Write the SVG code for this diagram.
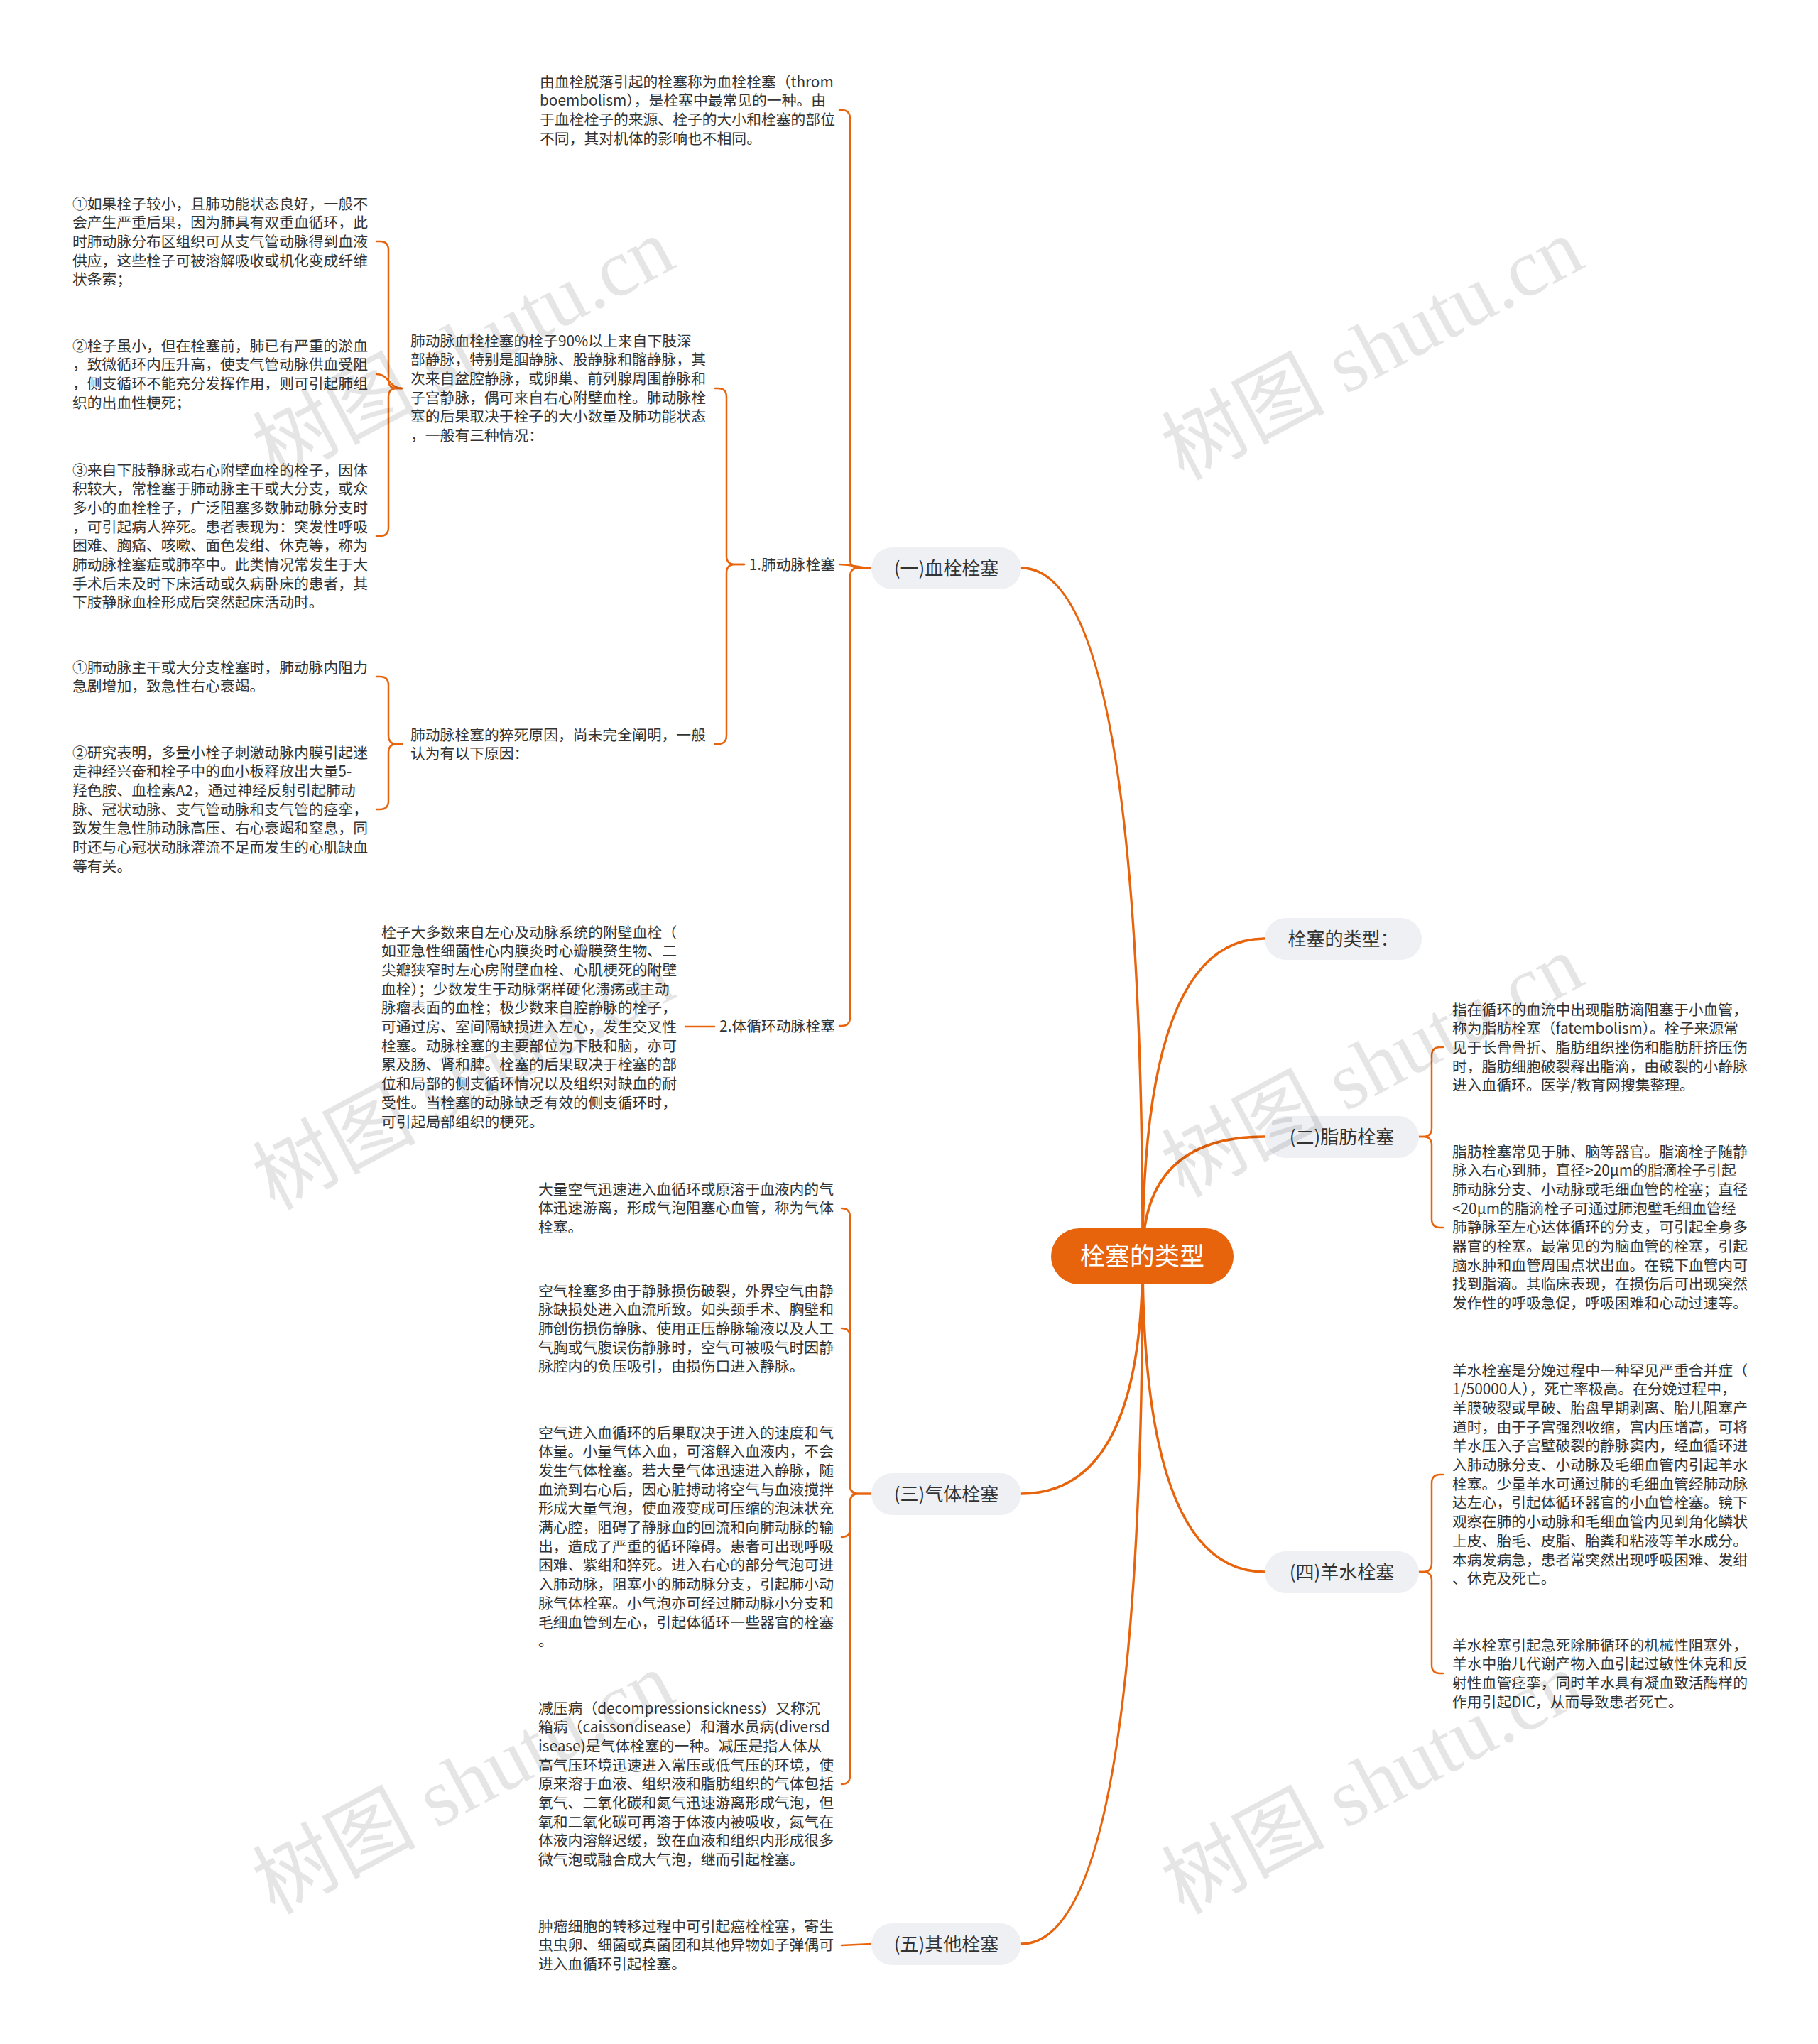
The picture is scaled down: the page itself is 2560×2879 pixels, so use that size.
<svg xmlns="http://www.w3.org/2000/svg" width="2560" height="2879" viewBox="0 0 2560 2879">
<style>
.t{font-family:"Noto Sans CJK SC","Noto Sans",sans-serif;font-size:20.8px;fill:#333333}
.l1{font-family:"Noto Sans CJK SC","Noto Sans",sans-serif;font-size:26px;fill:#333333;text-anchor:middle}
.l1r{fill:#eef0f4}
.c0{fill:none;stroke:#e8640c;stroke-width:3.5;stroke-linecap:round}
.c1{fill:none;stroke:#e8640c;stroke-width:2.5;stroke-linecap:round}
.wm{font-family:"Liberation Serif","Noto Sans CJK SC",serif;font-size:115px;fill:#000000;fill-opacity:0.1}
</style>
<rect x="0" y="0" width="2560" height="2879" fill="#ffffff"/>
<g id="connectors">
<path class="c0" d="M1609,1769 Q1609,800 1438,800"/>
<path class="c0" d="M1609,1769 Q1609,1322 1781,1322"/>
<path class="c0" d="M1609,1769 Q1609,1601 1781,1601"/>
<path class="c0" d="M1609,1769 Q1609,2104 1438,2104"/>
<path class="c0" d="M1609,1769 Q1609,2214 1781,2214"/>
<path class="c0" d="M1609,1769 Q1609,2738 1438,2738"/>
<path class="c1" d="M1227,800 L1209,800 Q1197,800 1197,788 L1197,167 Q1197,155 1185,155 L1182,155"/>
<path class="c1" d="M1227,800 C1205,800 1205,795 1182,795"/>
<path class="c1" d="M1227,800 L1209,800 Q1197,800 1197,812 L1197,1433 Q1197,1445 1185,1445 L1182,1445"/>
<path class="c1" d="M1048,795 L1035,795 Q1023,795 1023,783 L1023,559 Q1023,547 1011,547 L1007,547"/>
<path class="c1" d="M1048,795 L1035,795 Q1023,795 1023,807 L1023,1036 Q1023,1048 1011,1048 L1007,1048"/>
<path class="c1" d="M566,547 L559,547 Q547,547 547,535 L547,352 Q547,340 535,340 L530,340"/>
<path class="c1" d="M566,547 C548,547 548,527 530,527"/>
<path class="c1" d="M566,547 L559,547 Q547,547 547,559 L547,743 Q547,755 535,755 L530,755"/>
<path class="c1" d="M566,1048 L559,1048 Q547,1048 547,1036 L547,965 Q547,953 535,953 L530,953"/>
<path class="c1" d="M566,1048 L559,1048 Q547,1048 547,1060 L547,1128 Q547,1140 535,1140 L530,1140"/>
<path class="c1" d="M1006,1446 L965,1446"/>
<path class="c1" d="M1227,2104 L1209,2104 Q1197,2104 1197,2092 L1197,1714 Q1197,1702 1185,1702"/>
<path class="c1" d="M1227,2104 L1209,2104 Q1197,2104 1197,2092 L1197,1883 Q1197,1871 1185,1871"/>
<path class="c1" d="M1227,2104 L1209,2104 Q1197,2104 1197,2116 L1197,2153 Q1197,2165 1185,2165"/>
<path class="c1" d="M1227,2104 L1209,2104 Q1197,2104 1197,2116 L1197,2501 Q1197,2513 1185,2513"/>
<path class="c1" d="M1227,2738 L1185,2740"/>
<path class="c1" d="M1998,1601 L2004,1601 Q2016,1601 2016,1589 L2016,1487 Q2016,1475 2028,1475 L2032,1475"/>
<path class="c1" d="M1998,1601 L2004,1601 Q2016,1601 2016,1613 L2016,1717 Q2016,1729 2028,1729 L2032,1729"/>
<path class="c1" d="M1998,2214 L2004,2214 Q2016,2214 2016,2202 L2016,2089 Q2016,2077 2028,2077 L2032,2077"/>
<path class="c1" d="M1998,2214 L2004,2214 Q2016,2214 2016,2226 L2016,2345 Q2016,2357 2028,2357 L2032,2357"/>
</g>
<g id="root">
<rect x="1480" y="1730" width="257" height="79" rx="39.5" fill="#e8640c"/>
<text x="1608.5" y="1782" text-anchor="middle" font-family="Noto Sans CJK SC, sans-serif" font-size="35" fill="#ffffff">栓塞的类型</text>
</g>
<g id="n1">
<rect class="l1r" x="1227" y="771" width="211" height="59" rx="29.5"/>
<text class="l1" x="1332.5" y="810">(一)血栓栓塞</text>
</g>
<g id="n2">
<rect class="l1r" x="1781" y="1293" width="221" height="59" rx="29.5"/>
<text class="l1" x="1891.5" y="1332">栓塞的类型：</text>
</g>
<g id="n3">
<rect class="l1r" x="1781" y="1572" width="217" height="59" rx="29.5"/>
<text class="l1" x="1889.5" y="1611">(二)脂肪栓塞</text>
</g>
<g id="n4">
<rect class="l1r" x="1227" y="2075" width="211" height="59" rx="29.5"/>
<text class="l1" x="1332.5" y="2114">(三)气体栓塞</text>
</g>
<g id="n5">
<rect class="l1r" x="1781" y="2185" width="217" height="59" rx="29.5"/>
<text class="l1" x="1889.5" y="2224">(四)羊水栓塞</text>
</g>
<g id="n6">
<rect class="l1r" x="1227" y="2709" width="211" height="59" rx="29.5"/>
<text class="l1" x="1332.5" y="2748">(五)其他栓塞</text>
</g>
<g id="n1a">
<text class="t" x="1176" y="802.5" text-anchor="end">1.肺动脉栓塞</text>
</g>
<g id="n1b">
<text class="t" x="1176" y="1452.5" text-anchor="end">2.体循环动脉栓塞</text>
</g>
<g id="tA">
<text class="t"><tspan x="760" y="122.5">由血栓脱落引起的栓塞称为血栓栓塞（throm</tspan><tspan x="760" dy="26.7">boembolism），是栓塞中最常见的一种。由</tspan><tspan x="760" dy="26.7">于血栓栓子的来源、栓子的大小和栓塞的部位</tspan><tspan x="760" dy="26.7">不同，其对机体的影响也不相同。</tspan></text>
</g>
<g id="tB1">
<text class="t"><tspan x="578" y="487.5">肺动脉血栓栓塞的栓子90%以上来自下肢深</tspan><tspan x="578" dy="26.7">部静脉，特别是腘静脉、股静脉和髂静脉，其</tspan><tspan x="578" dy="26.7">次来自盆腔静脉，或卵巢、前列腺周围静脉和</tspan><tspan x="578" dy="26.7">子宫静脉，偶可来自右心附壁血栓。肺动脉栓</tspan><tspan x="578" dy="26.7">塞的后果取决于栓子的大小数量及肺功能状态</tspan><tspan x="578" dy="26.7">，一般有三种情况：</tspan></text>
</g>
<g id="tB2">
<text class="t"><tspan x="578" y="1042.5">肺动脉栓塞的猝死原因，尚未完全阐明，一般</tspan><tspan x="578" dy="26.7">认为有以下原因：</tspan></text>
</g>
<g id="tC1">
<text class="t"><tspan x="102" y="294.5">①如果栓子较小，且肺功能状态良好，一般不</tspan><tspan x="102" dy="26.7">会产生严重后果，因为肺具有双重血循环，此</tspan><tspan x="102" dy="26.7">时肺动脉分布区组织可从支气管动脉得到血液</tspan><tspan x="102" dy="26.7">供应，这些栓子可被溶解吸收或机化变成纤维</tspan><tspan x="102" dy="26.7">状条索；</tspan></text>
</g>
<g id="tC2">
<text class="t"><tspan x="102" y="494.5">②栓子虽小，但在栓塞前，肺已有严重的淤血</tspan><tspan x="102" dy="26.7">，致微循环内压升高，使支气管动脉供血受阻</tspan><tspan x="102" dy="26.7">，侧支循环不能充分发挥作用，则可引起肺组</tspan><tspan x="102" dy="26.7">织的出血性梗死；</tspan></text>
</g>
<g id="tC3">
<text class="t"><tspan x="102" y="669.5">③来自下肢静脉或右心附壁血栓的栓子，因体</tspan><tspan x="102" dy="26.7">积较大，常栓塞于肺动脉主干或大分支，或众</tspan><tspan x="102" dy="26.7">多小的血栓栓子，广泛阻塞多数肺动脉分支时</tspan><tspan x="102" dy="26.7">，可引起病人猝死。患者表现为：突发性呼吸</tspan><tspan x="102" dy="26.7">困难、胸痛、咳嗽、面色发绀、休克等，称为</tspan><tspan x="102" dy="26.7">肺动脉栓塞症或肺卒中。此类情况常发生于大</tspan><tspan x="102" dy="26.7">手术后未及时下床活动或久病卧床的患者，其</tspan><tspan x="102" dy="26.7">下肢静脉血栓形成后突然起床活动时。</tspan></text>
</g>
<g id="tD1">
<text class="t"><tspan x="102" y="947.5">①肺动脉主干或大分支栓塞时，肺动脉内阻力</tspan><tspan x="102" dy="26.7">急剧增加，致急性右心衰竭。</tspan></text>
</g>
<g id="tD2">
<text class="t"><tspan x="102" y="1067.5">②研究表明，多量小栓子刺激动脉内膜引起迷</tspan><tspan x="102" dy="26.7">走神经兴奋和栓子中的血小板释放出大量5-</tspan><tspan x="102" dy="26.7">羟色胺、血栓素A2，通过神经反射引起肺动</tspan><tspan x="102" dy="26.7">脉、冠状动脉、支气管动脉和支气管的痉挛，</tspan><tspan x="102" dy="26.7">致发生急性肺动脉高压、右心衰竭和窒息，同</tspan><tspan x="102" dy="26.7">时还与心冠状动脉灌流不足而发生的心肌缺血</tspan><tspan x="102" dy="26.7">等有关。</tspan></text>
</g>
<g id="tE">
<text class="t"><tspan x="537" y="1320.5">栓子大多数来自左心及动脉系统的附壁血栓（</tspan><tspan x="537" dy="26.7">如亚急性细菌性心内膜炎时心瓣膜赘生物、二</tspan><tspan x="537" dy="26.7">尖瓣狭窄时左心房附壁血栓、心肌梗死的附壁</tspan><tspan x="537" dy="26.7">血栓）；少数发生于动脉粥样硬化溃疡或主动</tspan><tspan x="537" dy="26.7">脉瘤表面的血栓；极少数来自腔静脉的栓子，</tspan><tspan x="537" dy="26.7">可通过房、室间隔缺损进入左心，发生交叉性</tspan><tspan x="537" dy="26.7">栓塞。动脉栓塞的主要部位为下肢和脑，亦可</tspan><tspan x="537" dy="26.7">累及肠、肾和脾。栓塞的后果取决于栓塞的部</tspan><tspan x="537" dy="26.7">位和局部的侧支循环情况以及组织对缺血的耐</tspan><tspan x="537" dy="26.7">受性。当栓塞的动脉缺乏有效的侧支循环时，</tspan><tspan x="537" dy="26.7">可引起局部组织的梗死。</tspan></text>
</g>
<g id="tF1">
<text class="t"><tspan x="2045" y="1429.5">指在循环的血流中出现脂肪滴阻塞于小血管，</tspan><tspan x="2045" dy="26.7">称为脂肪栓塞（fatembolism）。栓子来源常</tspan><tspan x="2045" dy="26.7">见于长骨骨折、脂肪组织挫伤和脂肪肝挤压伤</tspan><tspan x="2045" dy="26.7">时，脂肪细胞破裂释出脂滴，由破裂的小静脉</tspan><tspan x="2045" dy="26.7">进入血循环。医学/教育网搜集整理。</tspan></text>
</g>
<g id="tF2">
<text class="t"><tspan x="2045" y="1629.5">脂肪栓塞常见于肺、脑等器官。脂滴栓子随静</tspan><tspan x="2045" dy="26.7">脉入右心到肺，直径&gt;20μm的脂滴栓子引起</tspan><tspan x="2045" dy="26.7">肺动脉分支、小动脉或毛细血管的栓塞；直径</tspan><tspan x="2045" dy="26.7">&lt;20μm的脂滴栓子可通过肺泡壁毛细血管经</tspan><tspan x="2045" dy="26.7">肺静脉至左心达体循环的分支，可引起全身多</tspan><tspan x="2045" dy="26.7">器官的栓塞。最常见的为脑血管的栓塞，引起</tspan><tspan x="2045" dy="26.7">脑水肿和血管周围点状出血。在镜下血管内可</tspan><tspan x="2045" dy="26.7">找到脂滴。其临床表现，在损伤后可出现突然</tspan><tspan x="2045" dy="26.7">发作性的呼吸急促，呼吸困难和心动过速等。</tspan></text>
</g>
<g id="tG1">
<text class="t"><tspan x="2045" y="1937.5">羊水栓塞是分娩过程中一种罕见严重合并症（</tspan><tspan x="2045" dy="26.7">1/50000人），死亡率极高。在分娩过程中，</tspan><tspan x="2045" dy="26.7">羊膜破裂或早破、胎盘早期剥离、胎儿阻塞产</tspan><tspan x="2045" dy="26.7">道时，由于子宫强烈收缩，宫内压增高，可将</tspan><tspan x="2045" dy="26.7">羊水压入子宫壁破裂的静脉窦内，经血循环进</tspan><tspan x="2045" dy="26.7">入肺动脉分支、小动脉及毛细血管内引起羊水</tspan><tspan x="2045" dy="26.7">栓塞。少量羊水可通过肺的毛细血管经肺动脉</tspan><tspan x="2045" dy="26.7">达左心，引起体循环器官的小血管栓塞。镜下</tspan><tspan x="2045" dy="26.7">观察在肺的小动脉和毛细血管内见到角化鳞状</tspan><tspan x="2045" dy="26.7">上皮、胎毛、皮脂、胎粪和粘液等羊水成分。</tspan><tspan x="2045" dy="26.7">本病发病急，患者常突然出现呼吸困难、发绀</tspan><tspan x="2045" dy="26.7">、休克及死亡。</tspan></text>
</g>
<g id="tG2">
<text class="t"><tspan x="2045" y="2324.5">羊水栓塞引起急死除肺循环的机械性阻塞外，</tspan><tspan x="2045" dy="26.7">羊水中胎儿代谢产物入血引起过敏性休克和反</tspan><tspan x="2045" dy="26.7">射性血管痉挛，同时羊水具有凝血致活酶样的</tspan><tspan x="2045" dy="26.7">作用引起DIC，从而导致患者死亡。</tspan></text>
</g>
<g id="tH1">
<text class="t"><tspan x="758" y="1682.5">大量空气迅速进入血循环或原溶于血液内的气</tspan><tspan x="758" dy="26.7">体迅速游离，形成气泡阻塞心血管，称为气体</tspan><tspan x="758" dy="26.7">栓塞。</tspan></text>
</g>
<g id="tH2">
<text class="t"><tspan x="758" y="1825.5">空气栓塞多由于静脉损伤破裂，外界空气由静</tspan><tspan x="758" dy="26.7">脉缺损处进入血流所致。如头颈手术、胸壁和</tspan><tspan x="758" dy="26.7">肺创伤损伤静脉、使用正压静脉输液以及人工</tspan><tspan x="758" dy="26.7">气胸或气腹误伤静脉时，空气可被吸气时因静</tspan><tspan x="758" dy="26.7">脉腔内的负压吸引，由损伤口进入静脉。</tspan></text>
</g>
<g id="tH3">
<text class="t"><tspan x="758" y="2025.5">空气进入血循环的后果取决于进入的速度和气</tspan><tspan x="758" dy="26.7">体量。小量气体入血，可溶解入血液内，不会</tspan><tspan x="758" dy="26.7">发生气体栓塞。若大量气体迅速进入静脉，随</tspan><tspan x="758" dy="26.7">血流到右心后，因心脏搏动将空气与血液搅拌</tspan><tspan x="758" dy="26.7">形成大量气泡，使血液变成可压缩的泡沫状充</tspan><tspan x="758" dy="26.7">满心腔，阻碍了静脉血的回流和向肺动脉的输</tspan><tspan x="758" dy="26.7">出，造成了严重的循环障碍。患者可出现呼吸</tspan><tspan x="758" dy="26.7">困难、紫绀和猝死。进入右心的部分气泡可进</tspan><tspan x="758" dy="26.7">入肺动脉，阻塞小的肺动脉分支，引起肺小动</tspan><tspan x="758" dy="26.7">脉气体栓塞。小气泡亦可经过肺动脉小分支和</tspan><tspan x="758" dy="26.7">毛细血管到左心，引起体循环一些器官的栓塞</tspan><tspan x="758" dy="26.7">。</tspan></text>
</g>
<g id="tH4">
<text class="t"><tspan x="758" y="2413.5">减压病（decompressionsickness）又称沉</tspan><tspan x="758" dy="26.7">箱病（caissondisease）和潜水员病(diversd</tspan><tspan x="758" dy="26.7">isease)是气体栓塞的一种。减压是指人体从</tspan><tspan x="758" dy="26.7">高气压环境迅速进入常压或低气压的环境，使</tspan><tspan x="758" dy="26.7">原来溶于血液、组织液和脂肪组织的气体包括</tspan><tspan x="758" dy="26.7">氧气、二氧化碳和氮气迅速游离形成气泡，但</tspan><tspan x="758" dy="26.7">氧和二氧化碳可再溶于体液内被吸收，氮气在</tspan><tspan x="758" dy="26.7">体液内溶解迟缓，致在血液和组织内形成很多</tspan><tspan x="758" dy="26.7">微气泡或融合成大气泡，继而引起栓塞。</tspan></text>
</g>
<g id="tI">
<text class="t"><tspan x="758" y="2720.5">肿瘤细胞的转移过程中可引起癌栓栓塞，寄生</tspan><tspan x="758" dy="26.7">虫虫卵、细菌或真菌团和其他异物如子弹偶可</tspan><tspan x="758" dy="26.7">进入血循环引起栓塞。</tspan></text>
</g>
<g id="watermarks">
<text class="wm" x="655" y="530" text-anchor="middle" transform="rotate(-28 655 496)">树图 shutu.cn</text>
<text class="wm" x="1935" y="530" text-anchor="middle" transform="rotate(-28 1935 496)">树图 shutu.cn</text>
<text class="wm" x="655" y="1558" text-anchor="middle" transform="rotate(-28 655 1524)">树图 shutu.cn</text>
<text class="wm" x="1935" y="1540" text-anchor="middle" transform="rotate(-28 1935 1506)">树图 shutu.cn</text>
<text class="wm" x="655" y="2550" text-anchor="middle" transform="rotate(-28 655 2516)">树图 shutu.cn</text>
<text class="wm" x="1935" y="2550" text-anchor="middle" transform="rotate(-28 1935 2516)">树图 shutu.cn</text>
</g>
</svg>
